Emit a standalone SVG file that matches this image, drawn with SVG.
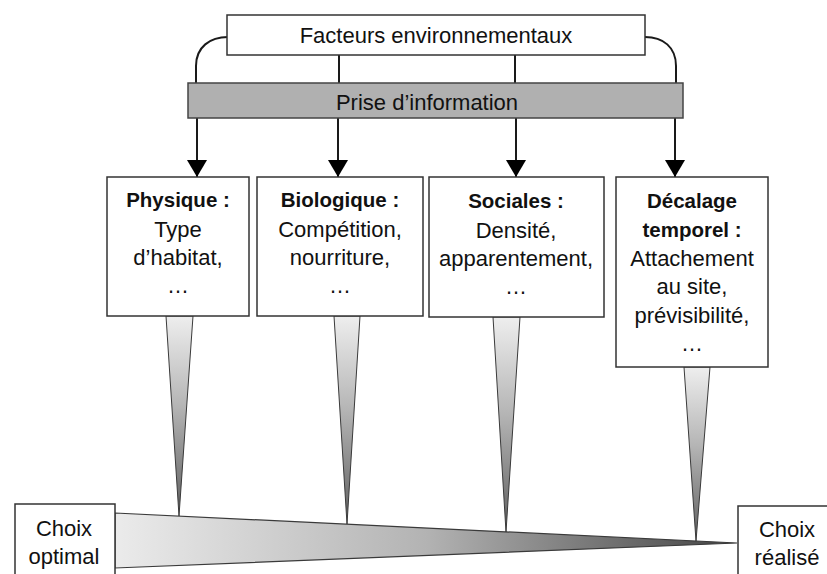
<svg xmlns="http://www.w3.org/2000/svg" width="827" height="574" viewBox="0 0 827 574">
<defs>
<linearGradient id="wedgeV" x1="0" y1="0" x2="0" y2="1">
<stop offset="0" stop-color="#eeeeee"/>
<stop offset="0.45" stop-color="#b5b5b5"/>
<stop offset="1" stop-color="#5e5e5e"/>
</linearGradient>
<linearGradient id="wedgeH" x1="0" y1="0" x2="1" y2="0">
<stop offset="0" stop-color="#ebebeb"/>
<stop offset="0.5" stop-color="#b3b3b3"/>
<stop offset="1" stop-color="#444"/>
</linearGradient>
<marker id="arr" markerWidth="17" markerHeight="20" refX="17" refY="10" orient="auto" markerUnits="userSpaceOnUse" viewBox="0 0 17 20">
<path d="M0,0 L17,10 L0,20 Z" fill="#000"/>
</marker>
</defs>
<style>
.box{fill:#fff;stroke:#333;stroke-width:1.5}
.bar{fill:#b0b0b0;stroke:#444;stroke-width:1.5}
.line{fill:none;stroke:#1a1a1a;stroke-width:2}
.wedge{fill:url(#wedgeV);stroke:#3a3a3a;stroke-width:1}
.big{fill:url(#wedgeH);stroke:#3a3a3a;stroke-width:1.2}
text{font-family:"Liberation Sans",Arial,sans-serif;fill:#111;text-anchor:middle}
.t{font-size:22px}
.b{font-size:20.5px;font-weight:bold}
</style>
<rect width="827" height="574" fill="#fff"/>

<g id="connectors">
<path class="line" d="M228,37 C210,37 196,47 196,66 V83"/>
<path class="line" d="M645,37 C663,37 676,47 676,66 V83"/>
<path class="line" d="M339,55 V83"/>
<path class="line" d="M515,55 V83"/>
<path class="line" d="M197,118 V177" marker-end="url(#arr)"/>
<path class="line" d="M338,118 V177" marker-end="url(#arr)"/>
<path class="line" d="M516,118 V177" marker-end="url(#arr)"/>
<path class="line" d="M675,118 V177" marker-end="url(#arr)"/>
<polygon class="big" points="115,513 737,543 115,568"/>
<polygon class="wedge" points="166,316 193,316 179,516"/>
<polygon class="wedge" points="334,316 360,316 347,524"/>
<polygon class="wedge" points="493,317 520,317 506,532"/>
<polygon class="wedge" points="684,367 710,367 696,541"/>
</g>

<g id="facteurs">
<rect class="box" x="227" y="15" width="418" height="40"/>
<text class="t" x="436" y="43">Facteurs environnementaux</text>
</g>

<g id="prise">
<rect class="bar" x="188" y="83" width="495" height="35"/>
<text class="t" x="427" y="110">Prise d’information</text>
</g>

<g id="physique">
<rect class="box" x="107" y="177" width="142" height="139"/>
<text class="b" x="178" y="207">Physique :</text>
<text class="t" x="178" y="237">Type</text>
<text class="t" x="178" y="265">d’habitat,</text>
<text class="t" x="178" y="293">…</text>
</g>

<g id="biologique">
<rect class="box" x="257" y="177" width="166" height="139"/>
<text class="b" x="340" y="207">Biologique :</text>
<text class="t" x="340" y="237">Compétition,</text>
<text class="t" x="340" y="265">nourriture,</text>
<text class="t" x="340" y="293">…</text>
</g>

<g id="sociales">
<rect class="box" x="429" y="177" width="175" height="140"/>
<text class="b" x="516" y="208">Sociales :</text>
<text class="t" x="516" y="238">Densité,</text>
<text class="t" x="516" y="266">apparentement,</text>
<text class="t" x="516" y="294">…</text>
</g>

<g id="decalage">
<rect class="box" x="616" y="177" width="152" height="190"/>
<text class="b" x="692" y="208">Décalage</text>
<text class="b" x="692" y="237">temporel :</text>
<text class="t" x="692" y="266">Attachement</text>
<text class="t" x="692" y="294">au site,</text>
<text class="t" x="692" y="323">prévisibilité,</text>
<text class="t" x="692" y="351">…</text>
</g>

<g id="choix-optimal">
<rect class="box" x="15" y="504" width="100" height="80"/>
<text class="t" x="64" y="536">Choix</text>
<text class="t" x="64" y="564">optimal</text>
</g>

<g id="choix-realise">
<rect class="box" x="738" y="506" width="100" height="80"/>
<text class="t" x="787" y="537">Choix</text>
<text class="t" x="787" y="565">réalisé</text>
</g>
</svg>
